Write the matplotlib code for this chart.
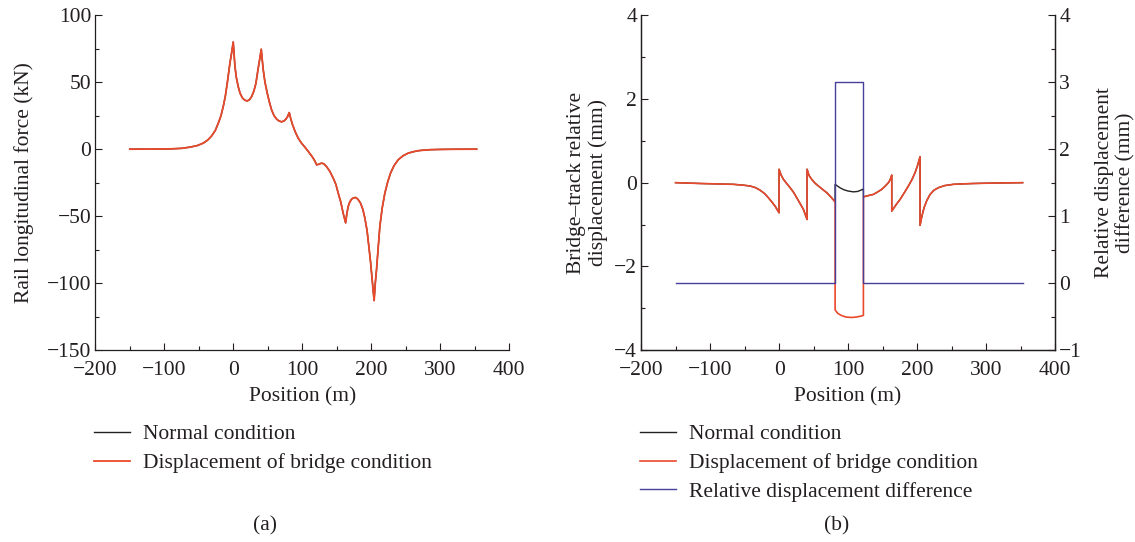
import matplotlib
matplotlib.use("Agg")
import matplotlib.pyplot as plt
from matplotlib.ticker import MultipleLocator

plt.rcParams['font.family'] = ['Liberation Serif', 'DejaVu Serif']
plt.rcParams['font.size'] = 15.5
plt.rcParams['text.color'] = '#231f20'
plt.rcParams['axes.labelcolor'] = '#231f20'
plt.rcParams['xtick.color'] = '#231f20'
plt.rcParams['ytick.color'] = '#231f20'

RED = '#ea4a2c'
BLACK = '#222222'
BLUE = '#46409c'

# (a) rail longitudinal force, kN
force_x = [-150, -120, -91.7, -75, -62.8, -52, -43.5, -37, -31.3, -26, -21.7, -18,
           -14.5, -11.5, -8.7, -4.8, -2.5, 0, 1.2, 2.5, 4.5, 7.2, 10, 13.6, 17, 20.3,
           23.5, 26.7, 30, 32.9, 36.2, 38.5, 40.6, 42, 43.5, 46, 49.3, 52.5, 55.6,
           59, 62.9, 66.5, 70.1, 73.5, 76.4, 79, 81.2, 83.5, 86.1, 90, 94.2, 99,
           103.9, 108.5, 113.6, 117.5, 121, 124.5, 128.1, 131.5, 135.3, 140, 145,
           149, 152.2, 156, 159.4, 163, 164.8, 166.7, 169, 171.6, 174.5, 177.8, 181,
           184.6, 188, 190.9, 194, 196.7, 199.3, 201.5, 204.3, 206, 207.8, 210,
           212.6, 216, 219.9, 224, 228.1, 233, 239.1, 246, 253.6, 262, 270.6, 285,
           300, 325, 353]
force_normal = [0, 0.05, 0.2, 0.6, 1.5, 2.7, 4.5, 6.8, 9.9, 14, 19.4, 24.6, 31.8,
                39.5, 49.2, 64.2, 71.5, 80, 71, 61.6, 53.5, 46.7, 41.6, 38, 36.5, 36,
                36.9, 39.3, 43.5, 49.2, 60.4, 67.5, 74.6, 67, 59.2, 50, 41.8, 35, 29.3,
                25.2, 22.4, 21, 20.4, 21, 22.4, 24.5, 27.3, 22.5, 18.1, 12.8, 8.2, 4.5,
                1.5, -1.5, -5, -8, -11.7, -11.2, -10.4, -11, -13, -16.5, -21.6, -26.5,
                -32.8, -39.5, -47.8, -55, -48, -42.8, -39.5, -37.3, -36.3, -36.1,
                -37.5, -40.3, -45, -51.5, -60.5, -72.7, -85, -97.5, -113, -100, -90,
                -75, -57.8, -44, -32.8, -24.5, -17.9, -12.5, -8, -5, -3, -1.8, -1,
                -0.4, -0.2, -0.05, 0]
force_bridge = force_normal

# (b) bridge-track relative displacement, mm
disp_x = [-150, -114.5, -90, -66.2, -52, -42, -34, -27.5, -21, -15.5, -10.5, -5.8,
          0, 0, 3, 6.3, 11, 16, 21, 25.6, 30.5, 35.3, 40.6, 40.6, 43.5, 47.3, 52, 57,
          63, 69.1, 75, 81.2, 81.2, 85, 90, 97, 105, 112, 118, 122.2, 122.2, 129,
          136.7, 143, 148.8, 154, 158.5, 161, 163.3, 163.3, 169, 175.4, 181.5,
          187.4, 192.5, 197.1, 200.5, 204.3, 204.3, 207, 210.1, 214, 218.8, 224.5,
          230.9, 240, 252.6, 265, 281.6, 310, 353]
disp_bridge = [0, -0.02, -0.03, -0.04, -0.06, -0.08, -0.12, -0.18, -0.26, -0.36,
               -0.46, -0.56, -0.72, 0.32, 0.18, 0.08, -0.02, -0.12, -0.23, -0.36,
               -0.5, -0.64, -0.88, 0.32, 0.17, 0.08, -0.01, -0.08, -0.16, -0.24,
               -0.34, -0.46, -3.04, -3.12, -3.17, -3.21, -3.22, -3.21, -3.19, -3.17,
               -0.34, -0.31, -0.28, -0.22, -0.16, -0.08, 0.0, 0.07, 0.18, -0.68,
               -0.54, -0.4, -0.24, -0.08, 0.07, 0.24, 0.4, 0.62, -1.02, -0.8, -0.6,
               -0.43, -0.28, -0.18, -0.12, -0.07, -0.04, -0.03, -0.02, -0.01, 0]

normal_x = [-150, -114.5, -90, -66.2, -52, -42, -34, -27.5, -21, -15.5, -10.5, -5.8,
            0, 0, 3, 6.3, 11, 16, 21, 25.6, 30.5, 35.3, 40.6, 40.6, 43.5, 47.3, 52,
            57, 63, 69.1, 75, 81.2, 81.2, 88, 94, 100, 107.7, 114, 121.3, 122.2,
            122.2, 129, 136.7, 143, 148.8, 154, 158.5, 161, 163.3, 163.3, 169, 175.4,
            181.5, 187.4, 192.5, 197.1, 200.5, 204.3, 204.3, 207, 210.1, 214, 218.8,
            224.5, 230.9, 240, 252.6, 265, 281.6, 310, 353]
disp_normal = [0, -0.02, -0.03, -0.04, -0.06, -0.08, -0.12, -0.18, -0.26, -0.36,
               -0.46, -0.56, -0.72, 0.32, 0.18, 0.08, -0.02, -0.12, -0.23, -0.36,
               -0.5, -0.64, -0.88, 0.32, 0.17, 0.08, -0.01, -0.08, -0.16, -0.24,
               -0.34, -0.46, -0.04, -0.12, -0.17, -0.2, -0.22, -0.21, -0.16, -0.15,
               -0.34, -0.31, -0.28, -0.22, -0.16, -0.08, 0.0, 0.07, 0.18, -0.68,
               -0.54, -0.4, -0.24, -0.08, 0.07, 0.24, 0.4, 0.62, -1.02, -0.8, -0.6,
               -0.43, -0.28, -0.18, -0.12, -0.07, -0.04, -0.03, -0.02, -0.01, 0]

diff_x = [-150, 81.2, 81.2, 122.2, 122.2, 353]
diff_val = [0, 0, 3, 3, 0, 0]


def style_axis(ax, right=False):
    ax.spines['top'].set_visible(False)
    if not right:
        ax.spines['right'].set_visible(False)
    for s in ax.spines.values():
        s.set_linewidth(0.9)
        s.set_color('#231f20')
    ax.tick_params(which='both', direction='in', width=0.8)
    ax.tick_params(axis='y', which='major', length=5, pad=3)
    ax.tick_params(axis='x', which='major', length=5, pad=8)
    ax.tick_params(which='minor', length=3)
    ax.xaxis.set_minor_locator(MultipleLocator(50))


fig = plt.figure(figsize=(11.35, 5.42), dpi=100)
ax1 = fig.add_axes([0.084, 0.354, 0.3645, 0.618])
ax2 = fig.add_axes([0.5648, 0.354, 0.3648, 0.618])

# (a)
ax1.plot(force_x, force_normal, color=BLACK, lw=1.0, label='Normal condition')
ax1.plot(force_x, force_bridge, color=RED, lw=1.3, label='Displacement of bridge condition')
ax1.set_xlim(-200, 400)
ax1.set_ylim(-150, 100)
ax1.xaxis.set_major_locator(MultipleLocator(100))
ax1.yaxis.set_major_locator(MultipleLocator(50))
ax1.yaxis.set_minor_locator(MultipleLocator(25))
style_axis(ax1)
ax1.set_xlabel('Position (m)', labelpad=5)
ax1.set_ylabel('Rail longitudinal force (kN)', labelpad=9)
ax1.legend(loc='upper left', bbox_to_anchor=(0.083, 0.217), bbox_transform=fig.transFigure,
           frameon=False, handlelength=1.65, handletextpad=0.6, labelspacing=0.4,
           borderpad=0, borderaxespad=0)

# (b)
l1, = ax2.plot(normal_x, disp_normal, color=BLACK, lw=1.0, label='Normal condition')
l2, = ax2.plot(disp_x, disp_bridge, color=RED, lw=1.2, label='Displacement of bridge condition')
ax2.set_xlim(-200, 400)
ax2.set_ylim(-4, 4)
ax2.xaxis.set_major_locator(MultipleLocator(100))
ax2.yaxis.set_major_locator(MultipleLocator(2))
ax2.yaxis.set_minor_locator(MultipleLocator(1))
style_axis(ax2, right=True)
ax2.set_xlabel('Position (m)', labelpad=5)
ax2.set_ylabel('Bridge\u2013track relative\ndisplacement (mm)', labelpad=4)

ax3 = ax2.twinx()
l3, = ax3.plot(diff_x, diff_val, color=BLUE, lw=1.0, label='Relative displacement difference')
ax3.set_ylim(-1, 4)
ax3.yaxis.set_major_locator(MultipleLocator(1))
ax3.yaxis.set_minor_locator(MultipleLocator(0.5))
style_axis(ax3, right=True)
ax3.set_ylabel('Relative displacement\ndifference (mm)', labelpad=9)

ax2.legend(handles=[l1, l2, l3], loc='upper left', bbox_to_anchor=(0.564, 0.217),
           bbox_transform=fig.transFigure, frameon=False, handlelength=1.65,
           handletextpad=0.6, labelspacing=0.4, borderpad=0, borderaxespad=0)

fig.text(0.2335, 0.03, '(a)', ha='center', va='center')
fig.text(0.7375, 0.03, '(b)', ha='center', va='center')

fig.savefig('out.png', dpi=100)
